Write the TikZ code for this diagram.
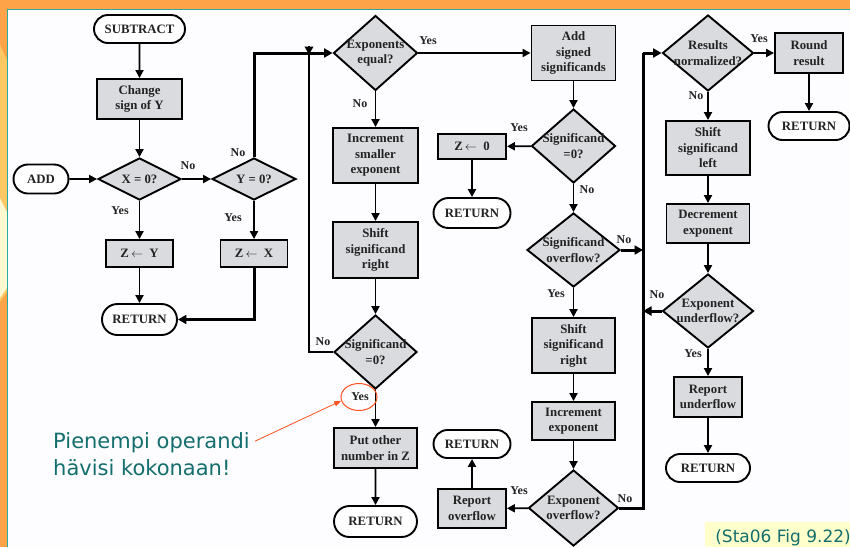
\documentclass[tikz,border=0pt]{standalone}
\usepackage{fontspec}
\setmainfont{Liberation Serif}
\newfontfamily\annofont{DejaVu Sans}
\usetikzlibrary{shapes.geometric,shapes.misc,arrows.meta}

\definecolor{frameorange}{RGB}{255,163,72}
\definecolor{stripyellow}{RGB}{255,200,100}
\definecolor{stripPale}{RGB}{255,248,208}
\definecolor{frameteal}{RGB}{40,170,160}
\definecolor{pagebg}{RGB}{253,253,255}
\definecolor{boxgray}{RGB}{217,219,222}
\definecolor{ink}{RGB}{35,35,35}
\definecolor{annoteal}{RGB}{20,110,110}
\definecolor{annored}{RGB}{255,80,30}
\definecolor{notebg}{RGB}{255,255,204}

\begin{document}
\begin{tikzpicture}[x=1pt,y=-1pt,
  txt/.style={font=\bfseries\fontsize{12.8}{15.5}\selectfont, text=ink},
  proc/.style 2 args={txt, draw=black, line width=1.9pt, fill=boxgray, align=center,
    inner sep=0pt, minimum width=#1, minimum height=#2},
  term/.style 2 args={txt, rounded rectangle, draw=black, line width=1.9pt, fill=white,
    inner sep=0pt, minimum width=#1, minimum height=#2},
  dec/.style 2 args={shape=diamond, draw=black, line width=1.9pt, fill=boxgray,
    inner sep=0pt, minimum width=#1, minimum height=#2},
  q/.style={label={[txt, align=center, inner sep=0pt]center:#1}},
  lab/.style={font=\bfseries\fontsize{12}{13}\selectfont, text=ink, inner sep=0pt},
  arr/.style={line width=1.9pt, -{Triangle[length=8pt,width=8pt]}},
  bus/.style={line width=3pt},
  busarr/.style={line width=3pt, -{Triangle[length=8.5pt,width=9pt]}},
  anno/.style={font=\annofont\fontsize{21}{27}\selectfont, text=annoteal, inner sep=0pt}
]
\useasboundingbox (0,0) rectangle (850,547);

% slide frame
\fill[frameorange] (0,0) rectangle (850,547);
\fill[stripyellow] (0,45) -- (7,60) -- (7,292) -- (0,302) -- cycle;
\fill[stripPale] (0,198) -- (7,212) -- (7,288) -- (0,298) -- cycle;
\fill[pagebg] (8,10) rectangle (850,547);
\draw[frameteal, line width=1pt] (7.5,547) -- (7.5,9.5) -- (850,9.5);

% ---- column 1: ADD / SUBTRACT entry
\node[term={91}{28}] (sub) at (139.5,29) {SUBTRACT};
\node[proc={85}{40}] (chg) at (139.5,99) {Change\\sign of Y};
\node[dec={83}{42}, q={X = 0?}] (xz) at (139.5,179) {};
\node[term={55}{29}] (add) at (41,179) {ADD};
\node[dec={84}{42}, q={Y = 0?}] (yz) at (254,179) {};
\node[proc={67}{27}] (zy) at (139.5,253.5) {Z\,$\leftarrow$\ \ Y};
\node[proc={67}{27}] (zx) at (254,253.5) {Z\,$\leftarrow$\ \ X};
\node[term={75}{31}] (ret1) at (139.5,319.5) {RETURN};

% ---- column 2: exponent alignment
\node[dec={84}{75}, q={Exponents\\equal?}] (eq) at (375.5,53) {};
\node[proc={85}{55}] (inc) at (375.5,155.5) {Increment\\smaller\\exponent};
\node[proc={85}{56}] (shr) at (375.5,250) {Shift\\significand\\right};
\node[dec={83}{74}, q={Significand\\=0?}] (sz) at (375.5,352) {};
\node[proc={83}{40}] (put) at (375.5,448) {Put other\\number in Z};
\node[term={83}{31}] (ret2) at (375.5,521.5) {RETURN};

% ---- column 3: add and overflow
\node[proc={84}{55}] (addsig) at (573.5,53) {Add\\signed\\significands};
\node[dec={84}{74}, q={Significand\\=0?}] (sz2) at (573.5,146) {};
\node[proc={68}{25}] (z0) at (472,146.5) {Z\,$\leftarrow$\ \ 0};
\node[term={77}{30}] (ret3) at (472,213) {RETURN};
\node[dec={93}{74}, q={Significand\\overflow?}] (sov) at (573.5,250) {};
\node[proc={83}{55}] (shr2) at (573.5,345.5) {Shift\\significand\\right};
\node[proc={83}{38}] (incx) at (573.5,421) {Increment\\exponent};
\node[dec={90}{76}, q={Exponent\\overflow?}] (eov) at (573.5,508) {};
\node[proc={68}{39}] (rov) at (472,508.5) {Report\\overflow};
\node[term={77}{28}] (ret4) at (472,444) {RETURN};

% ---- column 4: normalization
\coordinate (busTop) at (643,53);
\coordinate (busBot) at (643,508);
\node[dec={91}{76}, q={Results\\normalized?}] (norm) at (708,53) {};
\node[proc={68}{40}] (rnd) at (809,53) {Round\\result};
\node[term={81}{28}] (ret5) at (809,126) {RETURN};
\node[proc={84}{54}] (shl) at (708,148) {Shift\\significand\\left};
\node[proc={83}{39}] (decx) at (708,223.5) {Decrement\\exponent};
\node[dec={91}{74}, q={Exponent\\underflow?}] (unf) at (708,311) {};
\node[proc={68}{40}] (rund) at (708,397) {Report\\underflow};
\node[term={84}{28}] (ret6) at (708,468) {RETURN};

% ---- connectors
\draw[arr] (sub) -- (chg);
\draw[arr] (chg) -- (xz);
\draw[arr] (add) -- (xz);
\draw[arr] (xz) -- (yz);
\draw[arr] (xz) -- (zy);
\draw[arr] (yz) -- (zx);
\draw[arr] (zy) -- (ret1);
\draw[busarr] (zx.south) |- (ret1.east);
\draw[busarr] (yz.north) |- (eq.west);

\draw[arr] (eq) -- (addsig);
\draw[arr] (eq) -- (inc);
\draw[arr] (inc) -- (shr);
\draw[arr] (shr) -- (sz);
\coordinate (loopC) at (309,352);
\coordinate (loopT) at (309,54.5);
\draw[line width=2.4pt] (sz.west) -- (loopC) -- ([yshift=8pt]loopT);
\draw[line width=2.4pt, -{Triangle[length=8pt,width=8.5pt]}] ([yshift=9pt]loopT) -- (loopT);
\draw[arr] (sz) -- (put);
\draw[arr] (put) -- (ret2);

\draw[arr] (addsig) -- (sz2);
\draw[arr] (sz2) -- (z0);
\draw[arr] (z0) -- (ret3);
\draw[arr] (sz2) -- (sov);
\draw[busarr] (sov.east) -- (sov.east -| busTop);
\draw[arr] (sov) -- (shr2);
\draw[arr] (shr2) -- (incx);
\draw[arr] (incx) -- (eov);
\draw[arr] (eov) -- (rov);
\draw[arr] (rov) -- (ret4);
\draw[bus] (eov.east) -- (busBot) -- (busTop);
\draw[busarr] (busTop) -- (norm.west);

\draw[arr] (norm) -- (rnd);
\draw[arr] (rnd) -- (ret5);
\draw[arr] (norm) -- (shl);
\draw[arr] (shl) -- (decx);
\draw[arr] (decx) -- (unf);
\draw[busarr] (unf.west) -- (unf.west -| busTop);
\draw[arr] (unf) -- (rund);
\draw[arr] (rund) -- (ret6);

% ---- branch labels
\node[lab] (l1) at (188,166) {No};
\node[lab] (l2) at (120,211) {Yes};
\node[lab] (l3) at (233,218) {Yes};
\node[lab] (l4) at (238,153) {No};
\node[lab] (l5) at (428,41) {Yes};
\node[lab] (l6) at (360,104) {No};
\node[lab] (l7) at (323,342) {No};
\node[lab] (l8) at (360,397) {Yes};
\node[lab] (l9) at (519,128) {Yes};
\node[lab] (l10) at (587,190) {No};
\node[lab] (l11) at (624,240) {No};
\node[lab] (l12) at (556,294) {Yes};
\node[lab] (l13) at (519,491) {Yes};
\node[lab] (l14) at (625,499) {No};
\node[lab] (l15) at (759,39) {Yes};
\node[lab] (l16) at (696,96) {No};
\node[lab] (l17) at (657,295) {No};
\node[lab] (l18) at (693,354) {Yes};

% ---- annotation
\node[draw=annored, line width=1pt, ellipse, minimum width=36pt, minimum height=27pt,
  inner sep=0pt] (circ) at (359,397) {};
\node[anno, anchor=base west] (note1) at (53,448) {Pienempi operandi};
\node[anno, anchor=base west] (note2) at (53,475) {hävisi kokonaan!};
\draw[annored, line width=0.8pt, -{Triangle[length=7pt,width=5pt]}]
  ([xshift=5pt,yshift=1pt]note1.east) -- (circ.192);

% ---- source tag
\node[fill=notebg, minimum width=145pt, minimum height=25pt, inner sep=0pt, anchor=north west]
  (tagbg) at (705,522) {};
\node[font=\annofont\fontsize{17}{20}\selectfont, text=annoteal, inner sep=0pt, anchor=base east]
  (tag) at (851,542) {(Sta06 Fig 9.22)};
\end{tikzpicture}
\end{document}
